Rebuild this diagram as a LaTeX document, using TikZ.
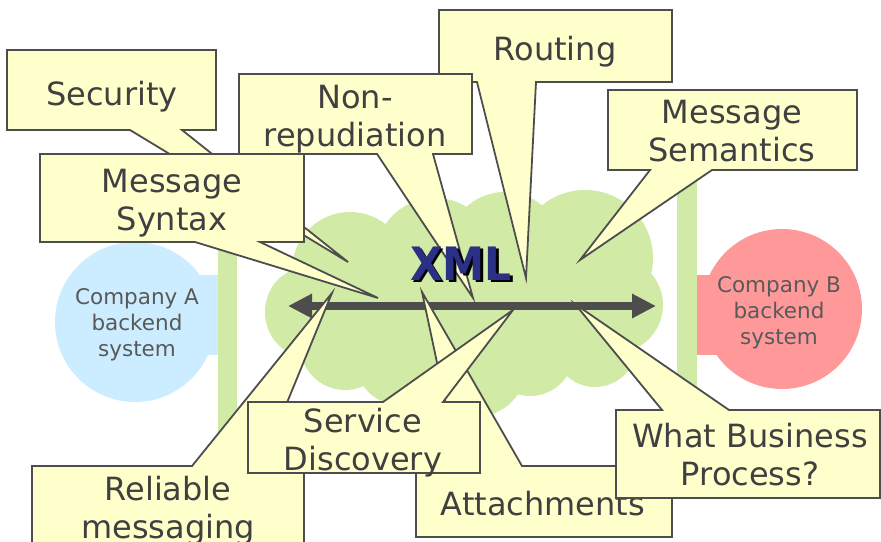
\documentclass[tikz,border=0pt]{standalone}
\usepackage{fontspec}
\setmainfont{DejaVu Sans}
\usetikzlibrary{arrows.meta}
\definecolor{calfill}{HTML}{FFFFCC}
\definecolor{caledge}{HTML}{4D4D4D}
\definecolor{caltext}{HTML}{404040}
\definecolor{cloudgreen}{RGB}{209,235,166}
\definecolor{compblue}{HTML}{CCECFF}
\definecolor{compred}{HTML}{FF9999}
\definecolor{xmlblue}{HTML}{2B3087}
\definecolor{comptext}{HTML}{595959}
\begin{document}
\begin{tikzpicture}[x=1pt,y=-1pt,
  callout/.style={fill=calfill,draw=caledge,line width=1.8pt,line join=miter},
  caltxt/.style={anchor=north,align=center,text=caltext,inner sep=0pt,font=\fontsize{32}{38}\selectfont},
  comptxt/.style={anchor=north,align=center,text=comptext,inner sep=0pt,font=\fontsize{21.5}{26}\selectfont},
  greenbar/.style={fill=cloudgreen,draw=none},
  xmltxt/.style={anchor=base,inner sep=0pt,font=\fontsize{46}{50}\selectfont\bfseries}
]
\useasboundingbox (0,0) rectangle (881,541);
\clip (0,0) rectangle (881,541);

% company A
\fill[compblue] (190,275) rectangle (219,355);
\fill[compblue] (135,322) circle[radius=80];
\node[comptxt] (ca) at (137,288) {Company A\\backend\\system};
% company B
\fill[compred] (696,275) rectangle (725,355);
\fill[compred] (782,309) circle[radius=80];
\node[comptxt] (cb) at (779,276) {Company B\\backend\\system};
% bars
\fill[greenbar] (218,160) rectangle (237,450);
\fill[greenbar] (677,160) rectangle (697,420);

% cloud
\fill[cloudgreen] (460,305) ellipse [x radius=170, y radius=80];
\fill[cloudgreen] (350,270) circle[radius=58] (435,258) circle[radius=60]
  (505,250) circle[radius=58] (585,258) circle[radius=68]
  (615,305) circle[radius=48] (595,345) circle[radius=42]
  (530,352) circle[radius=44] (475,365) circle[radius=52]
  (400,360) circle[radius=45] (345,345) circle[radius=45]
  (305,312) ellipse[x radius=40, y radius=44];

% arrow
\coordinate (al) at (288,306);
\coordinate (ar) at (656,306);
\draw[caledge,line width=8pt,{Triangle[length=24pt,width=23pt]}-{Triangle[length=24pt,width=23pt]}] (al) -- (ar);

% Security
\coordinate (tipsec) at (348,262);
\draw[callout] (7,50) -- (216,50) -- (216,130) -- (182,130) -- (tipsec) -- (130,130) -- (7,130) -- cycle;
\node[caltxt] (sec) at (112,81) {Security};
% Message Syntax
\coordinate (tipsyn) at (378,298);
\draw[callout] (40,154) -- (304,154) -- (304,242) -- (260,242) -- (tipsyn) -- (195,242) -- (40,242) -- cycle;
\node[caltxt] (syn) at (172,168.5) {Message\\Syntax};
% Routing
\coordinate (tiprout) at (526,278);
\draw[callout] (439,10) -- (672,10) -- (672,82) -- (536,82) -- (tiprout) -- (477,82) -- (439,82) -- cycle;
\node[caltxt] (rout) at (555,36) {Routing};
% Non-repudiation
\coordinate (tipnon) at (473,298);
\draw[callout] (239,74) -- (472,74) -- (472,154) -- (433,154) -- (tipnon) -- (377,154) -- (239,154) -- cycle;
\node[caltxt] (nonrep) at (355,84.5) {Non-\\repudiation};
% Message Semantics
\coordinate (tipsem) at (580,260);
\draw[callout] (608,90) -- (857,90) -- (857,170) -- (712,170) -- (tipsem) -- (650,170) -- (608,170) -- cycle;
\node[caltxt] (sem) at (732,99.5) {Message\\Semantics};
% Reliable messaging
\coordinate (tiprel) at (332,293);
\draw[callout] (32,548) -- (32,466) -- (192,466) -- (tiprel) -- (261,466) -- (304,466) -- (304,548) -- cycle;
\node[caltxt] (rel) at (168,476) {Reliable\\messaging};
% Attachments
\coordinate (tipatt) at (422,292);
\draw[callout] (416,537) -- (416,466) -- (459,466) -- (tipatt) -- (522,466) -- (672,466) -- (672,537) -- cycle;
\node[caltxt] (att) at (543,491) {Attachments};
% Service Discovery
\coordinate (tipsd) at (513,310);
\draw[callout] (248,473) -- (248,402) -- (383,402) -- (tipsd) -- (443,402) -- (480,402) -- (480,473) -- cycle;
\node[caltxt] (sd) at (363,408) {Service\\Discovery};
% What Business Process?
\coordinate (tipwbp) at (575,304);
\draw[callout] (616,498) -- (616,410) -- (662,410) -- (tipwbp) -- (729,410) -- (880,410) -- (880,498) -- cycle;
\node[caltxt] (wbp) at (750,423) {What Business\\Process?};

% XML
\node[xmltxt,text=black] (xmlshadow) at (463.5,282.5) {\scalebox{0.92}[1]{XML}};
\node[xmltxt,text=xmlblue] (xml) at (461,280) {\scalebox{0.92}[1]{XML}};
\end{tikzpicture}
\end{document}
